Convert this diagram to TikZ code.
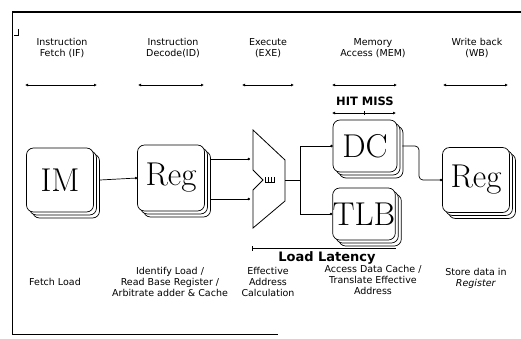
\documentclass[tikz,border=0pt]{standalone}
\usepackage{fontspec}
\newfontfamily\lbl{DejaVu Sans}
\usetikzlibrary{arrows.meta,shadows,calc}
\begin{document}
\begin{tikzpicture}[x=1pt,y=-1pt,
  stackbox/.style={draw=black, line width=0.7pt, fill=white, rounded corners=7pt,
     double copy shadow={shadow xshift=3pt, shadow yshift=-3pt, draw=black, fill=white},
     font=\fontsize{33}{33}\selectfont, inner sep=0pt},
  hdr/.style={font=\lbl\fontsize{9.5}{10.5}\selectfont, align=center},
  foot/.style={font=\lbl\fontsize{9.5}{11}\selectfont, align=center},
  span/.style={line width=0.8pt, {Latex[length=3pt,width=3pt]}-{Latex[length=3pt,width=3pt]}},
  wire/.style={line width=0.7pt},
  dotend/.style={wire, -{Circle[length=2.5pt]}},
  bigbold/.style={font=\lbl\bfseries\fontsize{11.5}{12}\selectfont}
]
\useasboundingbox (0,0) rectangle (521,338);
% frame
\draw[line width=1.6pt] (12,12) -- (521,12);
\draw[line width=1pt] (12,12) -- (12,334);
\draw[line width=1pt] (12,334) -- (278,334);
\draw[line width=0.7pt] (14,35) -- (18,35) -- (18,29);
% headers
\node[hdr] (hIF)  at (62,48)  {Instruction\\Fetch (IF)};
\node[hdr] (hID)  at (173,48) {Instruction\\Decode(ID)};
\node[hdr] (hEX)  at (268,48) {Execute\\(EXE)};
\node[hdr] (hMEM) at (373,48) {Memory\\Access (MEM)};
\node[hdr] (hWB)  at (477,48) {Write back\\(WB)};
\coordinate (a1) at (25,85);  \coordinate (b1) at (97,85);
\coordinate (a2) at (138,85); \coordinate (b2) at (204,85);
\coordinate (a3) at (242,85); \coordinate (b3) at (294,85);
\coordinate (a4) at (332,85); \coordinate (b4) at (397,85);
\coordinate (a5) at (443,85); \coordinate (b5) at (508,85);
\foreach \i in {1,...,5} \draw[span] (a\i) -- (b\i);
% HIT MISS
\node[bigbold] (hm) at (365,101) {HIT MISS};
\coordinate (hma) at (332,113); \coordinate (hmb) at (396,113); \coordinate (hmc) at (364,113);
\draw[span] (hma) -- (hmb);
\draw[line width=0.7pt] ($(hmc)+(0,-2)$) -- ($(hmc)+(0,2)$);
% boxes
\node[stackbox, minimum width=67pt, minimum height=64pt] (im)   at (60,180)  {IM};
\node[stackbox, minimum width=67pt, minimum height=66pt] (reg1) at (171,178) {Reg};
\node[stackbox, minimum width=64pt, minimum height=52pt] (dc)   at (365,146) {DC};
\node[stackbox, minimum width=62pt, minimum height=52pt] (tlb)  at (364,214) {TLB};
\node[stackbox, minimum width=67pt, minimum height=65pt] (reg2) at (476,180) {Reg};
% mux
\coordinate (mtl) at (253,130);
\coordinate (mtr) at (285,160);
\coordinate (mbr) at (285,201);
\coordinate (mbl) at (253,228);
\coordinate (mn1) at (253,170);
\coordinate (mnotch) at (263,180);
\coordinate (mn2) at (253,190);
\draw[line width=0.8pt] (mtl) -- (mtr) -- (mbr) -- (mbl) -- (mn2) -- (mnotch) -- (mn1) -- cycle;
\draw[line width=0.6pt] (265,177) -- (265,182) -- (268,182) -- (268,177) (268,182) -- (271,182) -- (271,177) (271,182) -- (274,182) -- (274,177);
\coordinate (min1) at (250,159);
\coordinate (min2) at (250,199);
\coordinate (mout) at (285,180);
% connectors
\draw[dotend] ([xshift=6pt]im.east) -- (reg1.west);
\draw[dotend] ([xshift=6pt]reg1.east |- min1) -- (min1);
\draw[dotend] ([xshift=6pt]reg1.east |- min2) -- (min2);
\coordinate (jn) at (300,180);
\draw[wire] (mout) -- (jn);
\draw[dotend] (jn) |- (dc.west);
\draw[dotend] (jn) |- (tlb.west);
\coordinate (bend) at (419,146);
\draw[dotend, rounded corners=4pt] ([xshift=5pt]dc.east) -- (bend) -- (bend |- reg2.west) -- (reg2.west);
% load latency
\coordinate (lla) at (252,248);
\coordinate (llb) at (396,248);
\draw[line width=0.8pt, {Bar[width=5pt]}-] (lla) -- (llb);
\node[bigbold, font=\lbl\bfseries\fontsize{13}{13}\selectfont] (ll) at (327,258) {Load Latency};
% footers
\node[foot] (fIF)  at (55,282)  {Fetch Load};
\node[foot] (fID)  at (170,282) {Identify Load /\\Read Base Register /\\Arbitrate adder \& Cache};
\node[foot] (fEX)  at (268,282) {Effective\\Address\\Calculation};
\node[foot] (fMEM) at (373,280) {Access Data Cache /\\Translate Effective\\Address};
\node[foot] (fWB)  at (476,278) {Store data in\\\textit{Register}};
\end{tikzpicture}
\end{document}
